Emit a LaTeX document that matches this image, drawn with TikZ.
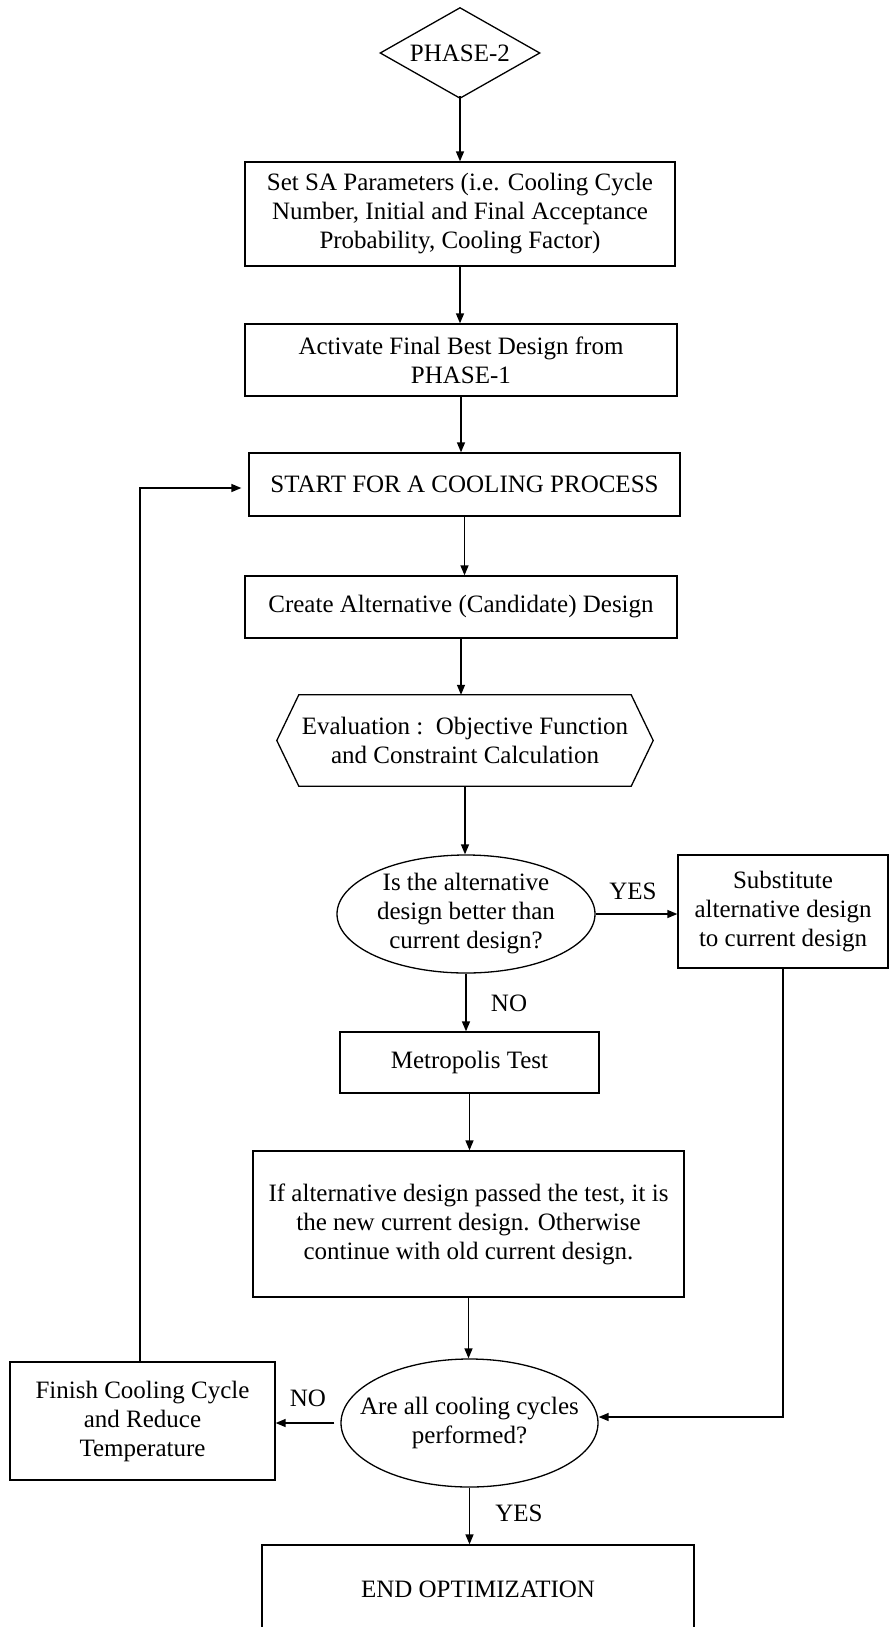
\documentclass[tikz,border=0pt]{standalone}
\usepackage{fontspec}
\setmainfont{Liberation Serif}
\usetikzlibrary{arrows.meta,shapes.geometric}

\begin{document}
\begin{tikzpicture}[x=1pt,y=-1pt,
  every node/.style={font=\fontsize{25}{29}\selectfont, align=center, inner sep=0pt},
  stepbox/.style={draw, line width=1.3pt, rectangle},
  decision/.style={draw, line width=1.3pt, ellipse},
  outline/.style={line width=1.3pt},
  flow/.style={line width=1.4pt, -{Triangle[length=10pt,width=8pt]}}
]
\useasboundingbox (0,0) rectangle (890,1627);
\clip (0,0) rectangle (890,1627);

% start marker (diamond outline drawn around the node)
\node[minimum width=159pt, minimum height=90pt] (phase) at (460,53) {PHASE-2};
\draw[outline] (phase.north) -- (phase.east) -- (phase.south) -- (phase.west) -- cycle;

% main column
\node[stepbox, minimum width=430pt, minimum height=104pt] (params) at (460,214)
  {Set SA Parameters (i.e. Cooling Cycle\\Number, Initial and Final Acceptance\\Probability, Cooling Factor)};
\node[stepbox, minimum width=432pt, minimum height=72pt] (activate) at (461,360)
  {Activate Final Best Design from\\PHASE-1};
\node[stepbox, minimum width=431pt, minimum height=63pt] (start) at (464.5,484.5)
  {START FOR A COOLING PROCESS};
\node[stepbox, minimum width=432pt, minimum height=62pt] (create) at (461,607)
  {Create Alternative (Candidate) Design};

% evaluation step (hexagon outline drawn around the node)
\node[minimum width=376pt, minimum height=91pt] (eval) at (465,740.5)
  {Evaluation :\ \ Objective Function\\and Constraint Calculation};
\draw[outline] (eval.west) -- ([xshift=22pt]eval.north west) -- ([xshift=-22pt]eval.north east)
  -- (eval.east) -- ([xshift=-22pt]eval.south east) -- ([xshift=22pt]eval.south west) -- cycle;

\node[decision, minimum width=258pt, minimum height=118pt] (better) at (466,914) {};
\node at (better) {Is the alternative\\design better than\\current design?};
\node[stepbox, minimum width=210pt, minimum height=113pt] (subst) at (783,911.5)
  {Substitute\\alternative design\\to current design};
\node[stepbox, minimum width=259pt, minimum height=61pt] (metro) at (469.5,1062.5)
  {Metropolis Test};
\node[stepbox, minimum width=431pt, minimum height=146pt] (accept) at (468.5,1224)
  {If alternative design passed the test, it is\\the new current design. Otherwise\\continue with old current design.};
\node[decision, minimum width=257pt, minimum height=128pt] (cycles) at (469.5,1423) {};
\node at (cycles) {Are all cooling cycles\\performed?};
\node[stepbox, minimum width=265pt, minimum height=118pt] (finish) at (142.5,1421)
  {Finish Cooling Cycle\\and Reduce\\Temperature};
\node[stepbox, minimum width=432pt, minimum height=88pt] (finalbox) at (478,1589)
  {END OPTIMIZATION};

% branch labels
\node (yes1) at (633,891) {YES};
\node (no1) at (509,1003) {NO};
\node (no2) at (308,1398) {NO};
\node (yes2) at (519,1513) {YES};

% connectors
\draw[flow] ([yshift=2pt]phase.south) -- (phase.south |- params.north);
\draw[flow] (params.south) -- (params.south |- activate.north);
\draw[flow] (activate.south) -- (activate.south |- start.north);
\draw[flow] (start.south) -- (start.south |- create.north);
\draw[flow] (create.south) -- (create.south |- eval.north);
\draw[flow] (eval.south) -- (eval.south |- better.north);
\draw[flow] (better.east) -- (subst.west |- better.east);
\draw[flow] (better.south) -- (better.south |- metro.north);
\draw[flow] (metro.south) -- (metro.south |- accept.north);
\draw[flow] (accept.south) -- (accept.south |- cycles.north);
\draw[flow] (subst.south) -- (subst.south |- 0,1417) -- (cycles.east |- 0,1417);
\draw[flow] ([xshift=-6pt]cycles.west) -- (finish.east |- cycles.west);
\draw[flow] (cycles.south) -- (cycles.south |- finalbox.north);
\draw[flow, shorten >=7pt] (finish.north -| 140,0) -- (140,488) -- (start.west |- 0,488);

\end{tikzpicture}
\end{document}
